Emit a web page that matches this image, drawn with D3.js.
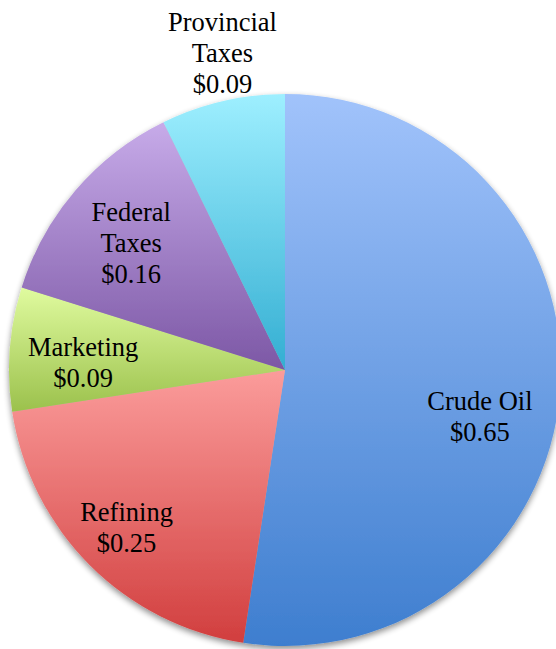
<!DOCTYPE html>
<html>
<head>
<meta charset="utf-8">
<script src="https://cdn.jsdelivr.net/npm/d3@7"></script>
<style>
    body { margin: 0; background: #fff; }
    #chart { width: 556px; height: 649px; }
    .slice-label { font-family: "Liberation Serif", "DejaVu Serif", serif; font-size: 26.5px; fill: #000; }
</style>
</head>
<body>
<svg id="chart" width="556" height="649"></svg>
<script>
    // data
    const categories = ["Crude Oil", "Refining", "Marketing", "Federal Taxes", "Provincial Taxes"];
    const values = [0.65, 0.25, 0.09, 0.16, 0.09];
    const labelLines = [["Crude Oil", "$0.65"], ["Refining", "$0.25"], ["Marketing", "$0.09"], ["Federal", "Taxes", "$0.16"], ["Provincial", "Taxes", "$0.09"]];
    const topColors = ["#a1c3fb", "#fb9c9b", "#e0fb9f", "#c7abe9", "#9eefff"];
    const bottomColors = ["#3e7ecf", "#d13e3e", "#9bc14c", "#7c57a5", "#33aed2"];
    // label nudges, px from centroid
    const labelNudge = [[-6, 31], [-16, 15], [-1, 8], [-1, 4], [-17, -121]];

    const svg = d3.select("#chart");
    const cx = 285, cy = 370, radius = 276;

    const defs = svg.append("defs");
    const shadow = defs.append("filter").attr("id", "pie-shadow")
        .attr("x", "-10%").attr("y", "-10%").attr("width", "120%").attr("height", "120%");
    shadow.append("feGaussianBlur").attr("in", "SourceAlpha").attr("stdDeviation", 3);
    shadow.append("feOffset").attr("dx", 0).attr("dy", 3).attr("result", "off");
    shadow.append("feComponentTransfer").append("feFuncA").attr("type", "linear").attr("slope", 0.45);
    const merge = shadow.append("feMerge");
    merge.append("feMergeNode");
    merge.append("feMergeNode").attr("in", "SourceGraphic");

    categories.forEach((c, i) => {
        const g = defs.append("linearGradient").attr("id", "grad" + i)
            .attr("x1", 0).attr("y1", 0).attr("x2", 0).attr("y2", 1);
        g.append("stop").attr("offset", "0%").attr("stop-color", topColors[i]);
        g.append("stop").attr("offset", "100%").attr("stop-color", bottomColors[i]);
    });

    const pie = d3.pie().sort(null).value(d => d);
    const arcs = pie(values);
    const arc = d3.arc().innerRadius(0).outerRadius(radius);
    const labelArc = d3.arc().innerRadius(radius * 0.73).outerRadius(radius * 0.73);

    const g = svg.append("g").attr("transform", `translate(${cx},${cy})`);
    const pieGroup = g.append("g").attr("filter", "url(#pie-shadow)");
    pieGroup.selectAll("path.slice")
        .data(arcs)
        .join("path")
        .attr("class", "slice")
        .attr("d", arc)
        .attr("fill", (d, i) => `url(#grad${i})`);

    const lineHeight = 31;
    const labels = g.selectAll("text.slice-label")
        .data(arcs)
        .join("text")
        .attr("class", "slice-label")
        .attr("text-anchor", "middle")
        .attr("transform", (d, i) => {
            const [x, y] = labelArc.centroid(d);
            return `translate(${x + labelNudge[i][0]},${y + labelNudge[i][1]})`;
        });
    labels.each(function(d, i) {
        const lines = labelLines[i];
        const t = d3.select(this);
        lines.forEach((line, j) => {
            t.append("tspan")
                .attr("x", 0)
                .attr("y", (j - (lines.length - 1) / 2) * lineHeight + 9)
                .text(line);
        });
    });
</script>
</body>
</html>
